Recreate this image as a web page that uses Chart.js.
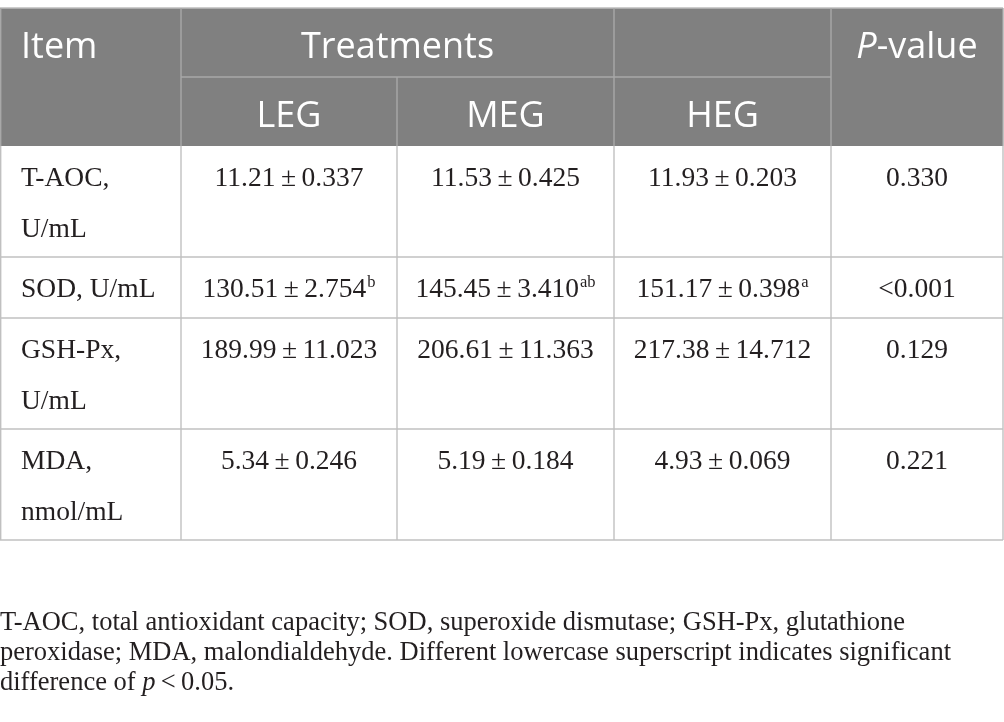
<!DOCTYPE html>
<html>
<head>
<meta charset="utf-8">
<script src="https://cdn.jsdelivr.net/npm/chart.js@4"></script>
<style>
html,body{margin:0;padding:0;background:#fff;}
canvas{display:block;}
</style>
</head>
<body>
<canvas id="c" width="1004" height="722"></canvas>
<script>
// ---- data ----
const items = ['T-AOC, U/mL', 'SOD, U/mL', 'GSH-Px, U/mL', 'MDA, nmol/mL'];
const treatments = ['LEG', 'MEG', 'HEG'];
const meansLEG = ['11.21', '130.51', '189.99', '5.34'];
const meansMEG = ['11.53', '145.45', '206.61', '5.19'];
const meansHEG = ['11.93', '151.17', '217.38', '4.93'];
const seLEG = ['0.337', '2.754', '11.023', '0.246'];
const seMEG = ['0.425', '3.410', '11.363', '0.184'];
const seHEG = ['0.203', '0.398', '14.712', '0.069'];
const supLEG = ['', 'b', '', ''];
const supMEG = ['', 'ab', '', ''];
const supHEG = ['', 'a', '', ''];
const pValues = ['0.330', '<0.001', '0.129', '0.221'];
const headerItem = 'Item';
const headerGroup = 'Treatments';
const headerP = ['P', '-value'];
const footnoteLines = [
  'T-AOC, total antioxidant capacity; SOD, superoxide dismutase; GSH-Px, glutathione',
  'peroxidase; MDA, malondialdehyde. Different lowercase superscript indicates significant'
];
const footnoteLast = ['difference of ', 'p', '\u2009<\u20090.05.'];

const means = [meansLEG, meansMEG, meansHEG];
const ses = [seLEG, seMEG, seHEG];
const sups = [supLEG, supMEG, supHEG];

const SERIF = '"Liberation Serif", "DejaVu Serif", serif';
const SANS = '"Open Sans", "Noto Sans", sans-serif';
const BODY = '27.5px ' + SERIF;
const SUP = '16.5px ' + SERIF;
const FOOT = '26.5px ' + SERIF;

const tablePlugin = {
  id: 'tablePlugin',
  afterDraw(chart) {
    const ctx = chart.ctx;
    const xs = chart.scales.x, ys = chart.scales.y;
    const X = v => xs.getPixelForValue(v);
    const Y = v => ys.getPixelForValue(v);
    const colX = [0, 181, 397, 614, 831, 1003];
    const headTop = 8, headMid = 77, headBot = 146;

    ctx.font = BODY;
    const wrap = (s, maxW) => {
      const words = s.split(' ');
      const lines = [];
      let cur = '';
      words.forEach(w => {
        const t = cur ? cur + ' ' + w : w;
        if (ctx.measureText(t).width > maxW && cur) { lines.push(cur); cur = w; }
        else cur = t;
      });
      lines.push(cur);
      return lines;
    };
    const itemLines = items.map(s => wrap(s, 148));
    const rowTops = [headBot];
    itemLines.forEach(l => rowTops.push(rowTops[rowTops.length - 1] + 61 + 50 * (l.length - 1)));

    ctx.save();
    ctx.fillStyle = '#808080';
    ctx.fillRect(X(0), Y(headTop), X(1003) - X(0), Y(headBot) - Y(headTop));

    const line = (x1, y1, x2, y2, col) => {
      ctx.strokeStyle = col; ctx.lineWidth = 1.4;
      ctx.beginPath(); ctx.moveTo(X(x1), Y(y1)); ctx.lineTo(X(x2), Y(y2)); ctx.stroke();
    };
    const hc = '#a8a8a8', bc = '#c0c0c0';
    line(0, headTop, 1003, headTop, '#bdbdbd');
    line(colX[1], headMid, colX[4], headMid, hc);
    line(colX[1], headTop, colX[1], headBot, hc);
    line(colX[2], headMid, colX[2], headBot, hc);
    line(colX[3], headTop, colX[3], headBot, hc);
    line(colX[4], headTop, colX[4], headBot, hc);
    line(0.7, headTop, 0.7, headBot, hc);
    line(1003, headTop, 1003, headBot, hc);

    rowTops.forEach((t, i) => { if (i > 0) line(0, t, 1003, t, bc); });
    const last = rowTops[rowTops.length - 1];
    [0.7, colX[1], colX[2], colX[3], colX[4], 1003].forEach(x => line(x, headBot, x, last, bc));

    // header text
    ctx.fillStyle = '#ffffff';
    ctx.textBaseline = 'alphabetic';
    ctx.font = '36px ' + SANS;
    ctx.textAlign = 'left';
    ctx.fillText(headerItem, X(21), Y(58));
    ctx.textAlign = 'center';
    ctx.fillText(headerGroup, X((colX[1] + colX[3]) / 2), Y(58));
    treatments.forEach((t, i) => ctx.fillText(t, X((colX[i + 1] + colX[i + 2]) / 2), Y(127)));
    ctx.font = 'italic 36px ' + SANS;
    const wP = ctx.measureText(headerP[0]).width;
    ctx.font = '36px ' + SANS;
    const wV = ctx.measureText(headerP[1]).width;
    const pcx = (colX[4] + colX[5]) / 2;
    const px0 = X(pcx) - (wP + wV) / 2;
    ctx.textAlign = 'left';
    ctx.font = 'italic 36px ' + SANS;
    ctx.fillText(headerP[0], px0, Y(58));
    ctx.font = '36px ' + SANS;
    ctx.fillText(headerP[1], px0 + wP, Y(58));

    // body text
    ctx.fillStyle = '#231f20';
    items.forEach((it, r) => {
      const top = rowTops[r];
      const base = top + 40;
      ctx.font = BODY;
      ctx.textAlign = 'left';
      itemLines[r].forEach((l, k) => ctx.fillText(l, X(21), Y(base + 51 * k)));
      for (let c = 0; c < 3; c++) {
        const main = means[c][r] + '\u2009\u00b1\u2009' + ses[c][r];
        const sup = sups[c][r];
        ctx.font = BODY;
        const wm = ctx.measureText(main).width;
        ctx.font = SUP;
        const ws = sup ? ctx.measureText(sup).width + 1 : 0;
        const cx = X((colX[c + 1] + colX[c + 2]) / 2);
        const x0 = cx - (wm + ws) / 2;
        ctx.font = BODY;
        ctx.fillText(main, x0, Y(base));
        if (sup) {
          ctx.font = SUP;
          ctx.fillText(sup, x0 + wm + 1, Y(base - 10));
        }
      }
      ctx.font = BODY;
      ctx.textAlign = 'center';
      ctx.fillText(pValues[r], X((colX[4] + colX[5]) / 2), Y(base));
    });

    // footnote
    ctx.textAlign = 'left';
    ctx.font = FOOT;
    footnoteLines.forEach((l, i) => ctx.fillText(l, X(0), Y(630 + 30 * i)));
    let fx = X(0);
    footnoteLast.forEach((seg, i) => {
      ctx.font = (i === 1 ? 'italic ' : '') + FOOT;
      ctx.fillText(seg, fx, Y(690));
      fx += ctx.measureText(seg).width;
    });
    ctx.restore();
  }
};

new Chart(document.getElementById('c'), {
  type: 'scatter',
  data: { datasets: [{ data: [] }] },
  options: {
    responsive: false,
    animation: false,
    devicePixelRatio: 1,
    layout: { padding: 0 },
    plugins: { legend: { display: false }, tooltip: { enabled: false } },
    scales: {
      x: { type: 'linear', min: 0, max: 1004, display: false },
      y: { type: 'linear', min: 0, max: 722, reverse: true, display: false }
    }
  },
  plugins: [tablePlugin]
});
</script>
</body>
</html>
